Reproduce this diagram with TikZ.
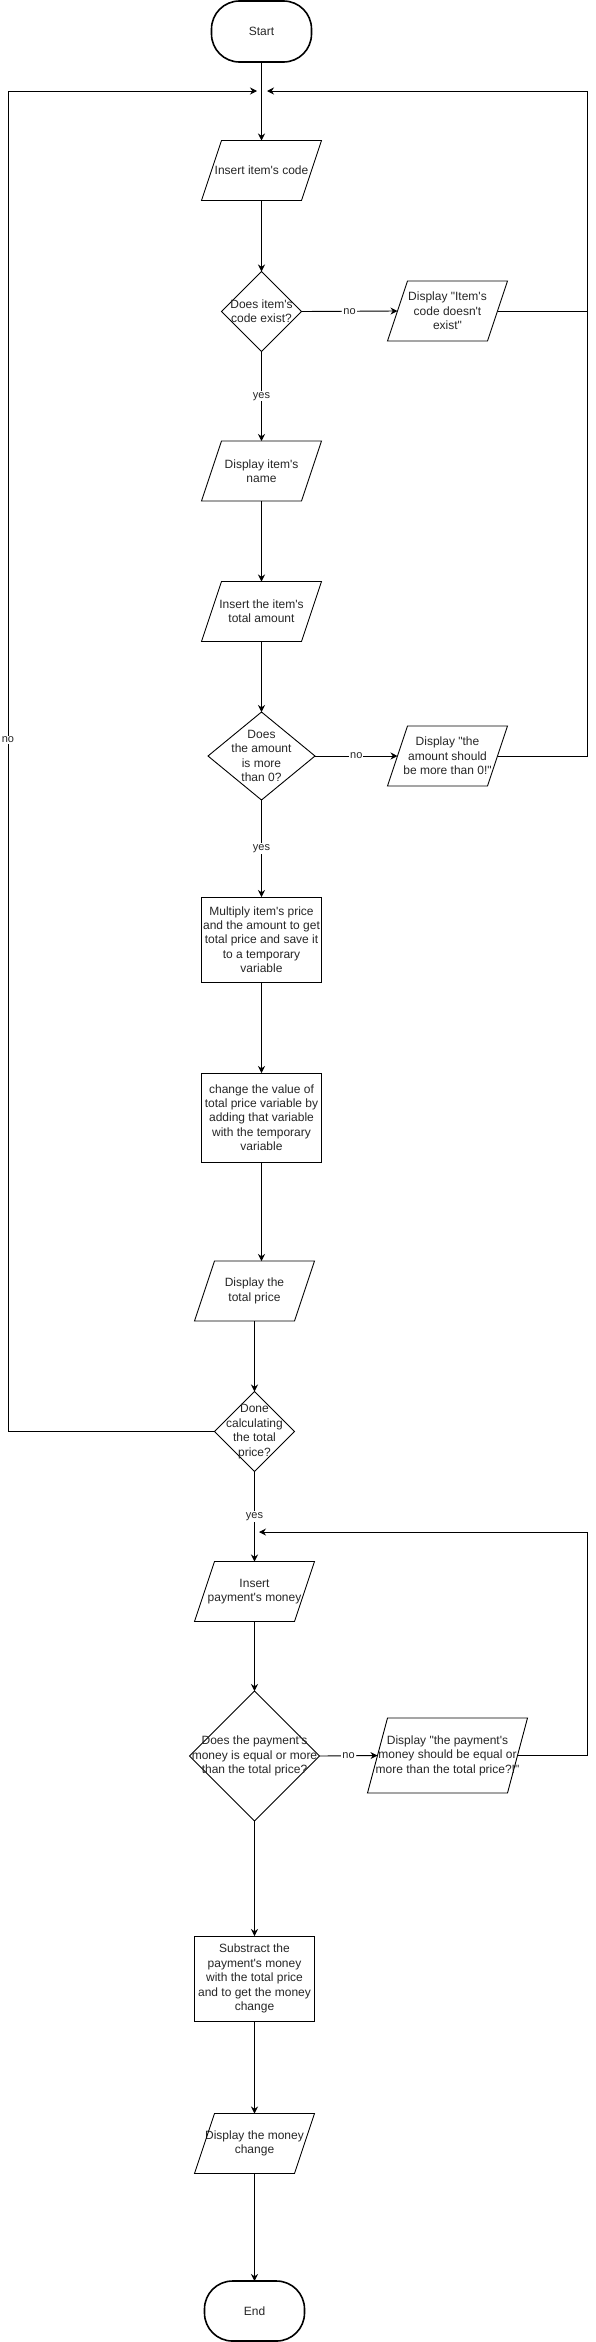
\documentclass[tikz,border=0pt]{standalone}
\usepackage{fontspec}
\setmainfont{Liberation Sans}[Ligatures=TeXOff]
\usetikzlibrary{shapes.geometric, arrows.meta}
\tikzset{
 shp/.style={draw=black, line width=0.9pt, inner sep=0pt, outer sep=0pt},
 term/.style={shp, line width=1.6pt, rectangle, rounded corners=28pt, minimum width=100pt, minimum height=61pt},
 io/.style={rectangle, inner sep=0pt, outer sep=0pt, minimum width=120pt, minimum height=60pt},
 proc/.style={shp, rectangle, minimum width=120pt},
 dec/.style={shp, diamond},
 txt/.style={align=center, text=black!85, font=\fontsize{12pt}{14.4pt}\selectfont, inner sep=0pt},
 txtof/.style={label={[txt]center:{#1}}},
 lbl/.style={fill=white, inner sep=1pt, text=black!85, font=\fontsize{11pt}{13pt}\selectfont},
 arr/.style={line width=0.9pt, -{Stealth[length=7pt,width=7pt]}},
 ln/.style={line width=0.9pt},
}
\newcommand\drawpara[2]{\draw[shp] ([xshift=#2]#1.north west) -- (#1.north east) -- ([xshift=-#2]#1.south east) -- (#1.south west) -- cycle;}
\begin{document}
\begin{tikzpicture}[x=1pt, y=-1pt]
\useasboundingbox (0,0) rectangle (596,2342);
% nodes
\node[term, txtof={Start}] (start) at (261.5,31.5) {};
\node[io, txtof={Insert item's code}] (n1) at (261.5,170.5) {};
\node[dec, minimum width=80pt, minimum height=80pt, txtof={Does item's\\code exist?}] (d1) at (261.5,311.5) {};
\node[io, txtof={Display "Item's\\code doesn't\\exist"}] (e1) at (447.5,311) {};
\node[io, txtof={Display item's\\name}] (n2) at (261.5,471) {};
\node[io, txtof={Insert the item's\\total amount}] (n3) at (261.5,611.5) {};
\node[dec, minimum width=107pt, minimum height=88pt, txtof={Does\\the amount\\is more\\than 0?}] (d2) at (261.5,756) {};
\node[io, txtof={Display "the\\amount should\\be more than 0!"}] (e2) at (447.5,756) {};
\node[proc, minimum height=85pt, txtof={Multiply item's price\\and the amount to get\\total price and save it\\to a temporary\\variable}] (p1) at (261.5,939.5) {};
\node[proc, minimum height=89pt, txtof={change the value of\\total price variable by\\adding that variable\\with the temporary\\variable}] (p2) at (261.5,1117.5) {};
\node[io, txtof={Display the\\total price}] (n4) at (254.5,1291) {};
\node[dec, minimum width=80pt, minimum height=80pt, txtof={Done\\calculating\\the total\\price?}] (d3) at (254.5,1431.5) {};
\node[io, txtof={Insert\\payment's money}] (n5) at (254.5,1591.5) {};
\node[dec, minimum width=130pt, minimum height=130pt, txtof={Does the payment's\\money is equal or more\\than the total price?}] (d4) at (254.5,1756) {};
\node[io, minimum width=160pt, minimum height=75pt, txtof={Display "the payment's\\money should be equal or\\more than the total price?!"}] (e4) at (447.5,1755.5) {};
\node[proc, minimum height=85pt, txtof={Substract the\\payment's money\\with the total price\\and to get the money\\change}] (p3) at (254.5,1978.5) {};
\node[io, txtof={Display the money\\change}] (n6) at (254.5,2143.5) {};
\node[term, minimum height=60pt, txtof={End}] (end) at (254.5,2311) {};
% parallelogram outlines
\drawpara{n1}{20pt}
\drawpara{e1}{20pt}
\drawpara{n2}{20pt}
\drawpara{n3}{20pt}
\drawpara{e2}{20pt}
\drawpara{n4}{20pt}
\drawpara{n5}{20pt}
\drawpara{e4}{20pt}
\drawpara{n6}{20pt}
% loop coordinates
\coordinate (ltop) at (8,91);
\coordinate (tipL) at (257,91);
\coordinate (rtop) at (587,91);
\coordinate (tipR) at (267,91);
\coordinate (rtop2) at (587,1532);
\coordinate (tip2) at (259,1532);
% connectors
\draw[arr] (start.south) -- (n1.north);
\draw[arr] (n1.south) -- (d1.north);
\draw[arr] (d1.east) -- node[lbl]{no} ([xshift=10pt]e1.west);
\draw[arr] (d1.south) -- node[lbl]{yes} (n2.north);
\draw[arr] ([xshift=-10pt]e1.east) -| (rtop) -- (tipR);
\draw[arr] (n2.south) -- (n3.north);
\draw[arr] (n3.south) -- (d2.north);
\draw[arr] (d2.east) -- node[lbl]{no} ([xshift=10pt]e2.west);
\draw[ln] ([xshift=-10pt]e2.east) -| (rtop);
\draw[arr] (d2.south) -- node[lbl]{yes} (p1.north);
\draw[arr] (p1.south) -- (p2.north);
\draw[arr] (p2.south) -- (p2.south |- n4.north);
\draw[arr] (n4.south) -- (d3.north);
\draw[arr] (d3.west) -| node[lbl, pos=0.758]{no} (ltop) -- (tipL);
\draw[arr] (d3.south) -- node[lbl]{yes} (n5.north);
\draw[arr] (n5.south) -- (d4.north);
\draw[arr] (d4.east) -- node[lbl]{no} ([xshift=10pt]e4.west);
\draw[arr] ([xshift=-10pt]e4.east) -| (rtop2) -- (tip2);
\draw[arr] (d4.south) -- (p3.north);
\draw[arr] (p3.south) -- (n6.north);
\draw[arr] (n6.south) -- (end.north);
\end{tikzpicture}
\end{document}
